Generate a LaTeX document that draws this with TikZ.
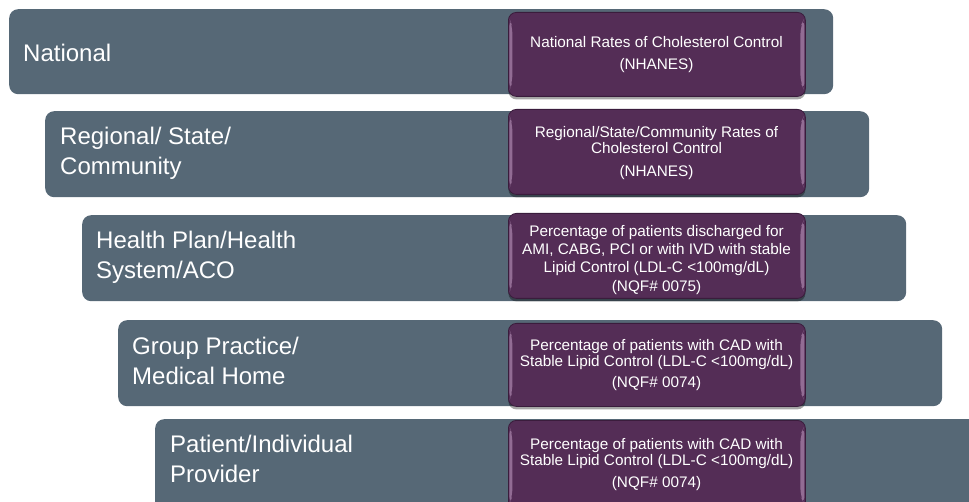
\documentclass[tikz,border=0pt]{standalone}
\usepackage{fontspec}
\setmainfont{Liberation Sans}
\usetikzlibrary{shadows}
\definecolor{slate}{RGB}{86,104,118}
\definecolor{plum}{RGB}{84,45,86}
\definecolor{plumedge}{RGB}{58,28,60}
\definecolor{plumhi}{RGB}{146,108,148}
\begin{document}
\begin{tikzpicture}[x=1pt,y=-1pt,
  tier/.style={fill=slate, rounded corners=9pt, minimum width=824pt, anchor=north west, inner sep=0pt},
  measure/.style={fill=plum, draw=plumedge, line width=0.8pt, rounded corners=8pt,
    minimum width=297pt, anchor=north west, inner sep=0pt,
    drop shadow={shadow xshift=0pt, shadow yshift=-3pt, opacity=0.35, fill=black},
    path picture={
      \fill[plumhi] ([xshift=1pt,yshift=-6pt]path picture bounding box.north west)
        -- ([xshift=4pt,yshift=-14pt]path picture bounding box.north west)
        -- ([xshift=4pt,yshift=14pt]path picture bounding box.south west)
        -- ([xshift=1pt,yshift=6pt]path picture bounding box.south west) -- cycle;
      \fill[plumhi] ([xshift=-1pt,yshift=-6pt]path picture bounding box.north east)
        -- ([xshift=-5pt,yshift=-14pt]path picture bounding box.north east)
        -- ([xshift=-5pt,yshift=14pt]path picture bounding box.south east)
        -- ([xshift=-1pt,yshift=6pt]path picture bounding box.south east) -- cycle;
    }},
  tierlabel/.style={text=white, font=\fontsize{24}{30}\selectfont, align=left, anchor=west, inner sep=0pt},
  measuretext/.style={text=white, font=\fontsize{15.3}{16}\selectfont, align=center, inner sep=0pt}]
\useasboundingbox (0,0) rectangle (969,502);
\clip (0,0) rectangle (969,502);

% tier 1
\node[tier, minimum height=85pt] (t1) at (9,9) {};
\node[measure, minimum height=84pt] (p1) at (508,12) {};
\node[tierlabel] (l1) at (23,52.5) {National};
\node[measuretext] (m1) at (656.5,54.3) {National Rates of Cholesterol Control\\[5.5pt](NHANES)};

% tier 2
\node[tier, minimum height=86pt] (t2) at (45,111) {};
\node[measure, minimum height=85pt] (p2) at (508,109) {};
\node[tierlabel] (l2) at (60,153.2) {Regional/ State/\\Community};
\node[measuretext] (m2) at (656.5,153) {Regional/State/Community Rates of\\Cholesterol Control\\[6.7pt](NHANES)};

% tier 3
\node[tier, minimum height=86pt] (t3) at (82,215) {};
\node[measure, minimum height=85pt] (p3) at (508,213) {};
\node[tierlabel] (l3) at (96,257) {Health Plan/Health\\System/ACO};
\node[measuretext] (m3) at (656.5,259.6) {Percentage of patients discharged for\\[2.3pt]AMI, CABG, PCI or with IVD with stable\\[2.3pt]Lipid Control (LDL-C <100mg/dL)\\[2.3pt](NQF\# 0075)};

% tier 4
\node[tier, minimum height=86pt] (t4) at (118,320) {};
\node[measure, minimum height=83pt] (p4) at (508,323) {};
\node[tierlabel] (l4) at (132,361) {Group Practice/\\Medical Home};
\node[measuretext] (m4) at (656.5,365) {Percentage of patients with CAD with\\[0.7pt]Stable Lipid Control (LDL-C <100mg/dL)\\[5pt](NQF\# 0074)};

% tier 5
\node[tier, minimum height=92pt] (t5) at (155,419) {};
\node[measure, minimum height=90pt] (p5) at (508,420) {};
\node[tierlabel] (l5) at (170,459.3) {Patient/Individual\\Provider};
\node[measuretext] (m5) at (656.5,464.1) {Percentage of patients with CAD with\\Stable Lipid Control (LDL-C <100mg/dL)\\[6pt](NQF\# 0074)};
\end{tikzpicture}
\end{document}
